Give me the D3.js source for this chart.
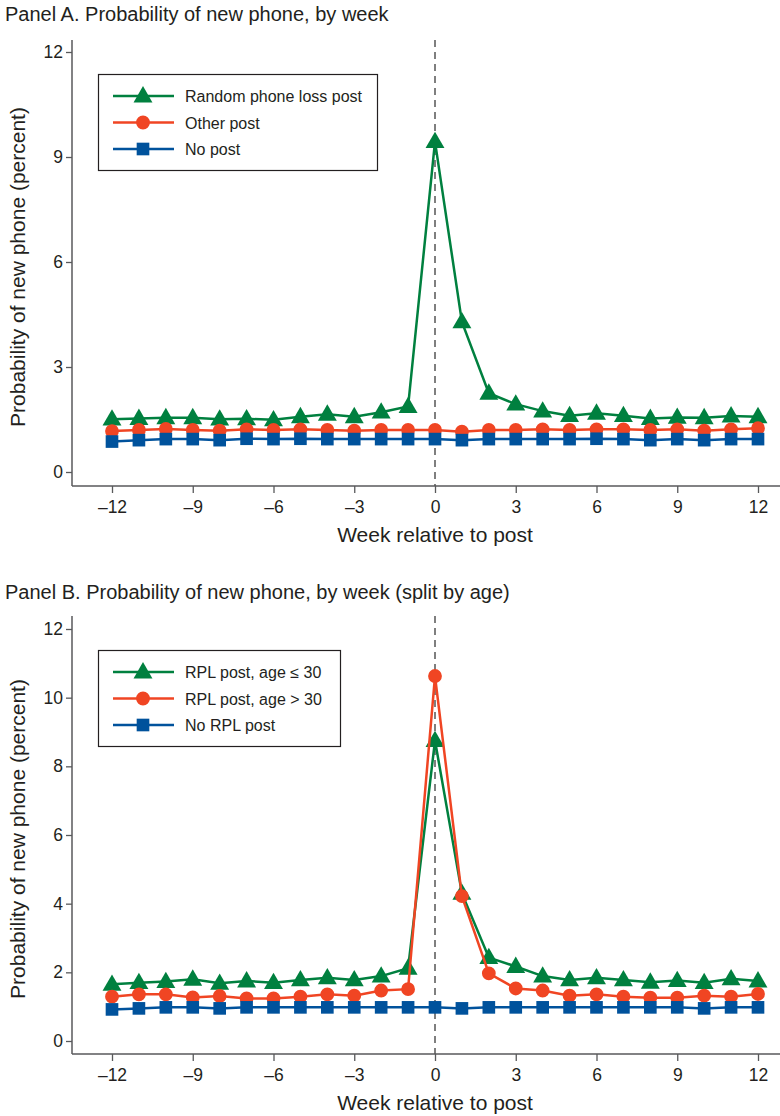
<!DOCTYPE html>
<html>
<head>
<meta charset="utf-8">
<script src="https://cdn.jsdelivr.net/npm/d3@7"></script>
<style>
  body { margin: 0; background: #fff; }
  svg { display: block; }
  text { font-family: "Liberation Sans", Arial, sans-serif; fill: #231f20; }
</style>
</head>
<body>
<div id="chart"></div>
<script>
// weeks relative to post
const weeks = d3.range(-12, 13);

// Panel A series (percent)
const rplPost = [1.51, 1.53, 1.55, 1.55, 1.51, 1.52, 1.49, 1.58, 1.65, 1.58, 1.71, 1.87,
  9.44, 4.29, 2.25, 1.94, 1.74, 1.61, 1.68, 1.61, 1.53, 1.56, 1.55, 1.60, 1.58];
const otherPost = [1.17, 1.20, 1.23, 1.20, 1.18, 1.22, 1.20, 1.22, 1.20, 1.18, 1.20, 1.20,
  1.20, 1.15, 1.20, 1.20, 1.22, 1.20, 1.22, 1.22, 1.20, 1.22, 1.18, 1.22, 1.25];
const noPost = [0.87, 0.91, 0.94, 0.94, 0.91, 0.95, 0.94, 0.95, 0.94, 0.94, 0.94, 0.94,
  0.94, 0.91, 0.94, 0.94, 0.94, 0.94, 0.95, 0.94, 0.91, 0.94, 0.91, 0.94, 0.94];

// Panel B series (percent)
const rplYoung = [1.65, 1.70, 1.73, 1.80, 1.68, 1.75, 1.70, 1.78, 1.84, 1.78, 1.89, 2.12,
  8.75, 4.30, 2.43, 2.17, 1.89, 1.78, 1.84, 1.78, 1.71, 1.76, 1.70, 1.81, 1.75];
const rplOld = [1.29, 1.36, 1.36, 1.27, 1.31, 1.24, 1.24, 1.29, 1.36, 1.32, 1.47, 1.51,
  10.63, 4.22, 1.97, 1.53, 1.47, 1.32, 1.36, 1.29, 1.26, 1.26, 1.32, 1.29, 1.37];
const noRpl = [0.92, 0.95, 0.98, 0.98, 0.95, 0.98, 0.98, 0.98, 0.98, 0.98, 0.98, 0.98,
  0.98, 0.95, 0.98, 0.98, 0.98, 0.98, 0.98, 0.98, 0.98, 0.98, 0.95, 0.98, 0.98];

const xTicks = [-12, -9, -6, -3, 0, 3, 6, 9, 12];
const yTicksA = [0, 3, 6, 9, 12];
const yTicksB = [0, 2, 4, 6, 8, 10, 12];

const green = "#00803f", red = "#f04523", blue = "#00529c";

const svg = d3.select("#chart").append("svg")
  .attr("width", 780)
  .attr("height", 1116);

const fmt = d => d < 0 ? "\u2013" + Math.abs(d) : String(d);

function drawPanel(opts) {
  const g = svg.append("g");

  g.append("text")
    .attr("x", 5).attr("y", opts.titleY)
    .style("font-size", "20px")
    .text(opts.title);

  const x = d3.scaleLinear().domain([-12, 12]).range([112, 758]);
  const y = d3.scaleLinear().domain([0, 12]).range(opts.yRange);

  // axis lines
  g.append("line")
    .attr("x1", opts.axisX).attr("x2", opts.axisX)
    .attr("y1", opts.top).attr("y2", opts.bottom)
    .attr("stroke", "#58595b").attr("stroke-width", 1.5);
  g.append("line")
    .attr("x1", opts.axisX).attr("x2", 780)
    .attr("y1", opts.bottom).attr("y2", opts.bottom)
    .attr("stroke", "#58595b").attr("stroke-width", 1.5);

  const xAxis = g.append("g")
    .attr("transform", "translate(0," + opts.bottom + ")")
    .call(d3.axisBottom(x).tickValues(xTicks).tickFormat(fmt).tickSize(7).tickPadding(8));
  xAxis.select(".domain").remove();

  const yAxis = g.append("g")
    .attr("transform", "translate(" + opts.axisX + ",0)")
    .call(d3.axisLeft(y).tickValues(opts.yTicks).tickSize(6).tickPadding(3));
  yAxis.select(".domain").remove();

  g.selectAll(".tick line").attr("stroke", "#58595b").attr("stroke-width", 1.3);
  g.selectAll(".tick text")
    .style("font-family", "\"Liberation Sans\", Arial, sans-serif")
    .style("font-size", "17.5px").attr("fill", "#231f20");

  g.append("text")
    .attr("x", x(0)).attr("y", opts.bottom + 56)
    .attr("text-anchor", "middle")
    .style("font-size", "21px")
    .text("Week relative to post");

  g.append("text")
    .attr("transform", "translate(25," + ((opts.top + opts.bottom) / 2 + 4) + ") rotate(-90)")
    .attr("text-anchor", "middle")
    .style("font-size", "21px")
    .text("Probability of new phone (percent)");

  // dashed reference line at week 0
  g.append("line")
    .attr("x1", x(0)).attr("x2", x(0))
    .attr("y1", opts.top).attr("y2", opts.bottom)
    .attr("stroke", "#555").attr("stroke-width", 1.5)
    .attr("stroke-dasharray", "7,5");

  const line = d3.line().x((d, i) => x(weeks[i])).y(d => y(d));
  const sym = {
    triangle: d3.symbol().type(d3.symbolTriangle).size(155),
    circle: d3.symbol().type(d3.symbolCircle).size(150),
    square: d3.symbol().type(d3.symbolSquare).size(160)
  };

  opts.series.forEach(s => {
    g.append("path")
      .datum(s.values)
      .attr("fill", "none")
      .attr("stroke", s.color)
      .attr("stroke-width", 2.5)
      .attr("d", line);
    g.append("g").selectAll("path")
      .data(s.values)
      .join("path")
      .attr("transform", (d, i) => "translate(" + x(weeks[i]) + "," + (y(d) + (s.shape === "triangle" ? 1 : 0)) + ")")
      .attr("d", sym[s.shape])
      .attr("fill", s.color);
  });

  // legend
  const lg = g.append("g");
  lg.append("rect")
    .attr("x", 98.5).attr("y", opts.legendTop + 0.5)
    .attr("width", opts.legendW).attr("height", 96)
    .attr("fill", "#fff").attr("stroke", "#231f20").attr("stroke-width", 1.2);
  opts.series.forEach((s, i) => {
    const ly = opts.legendTop + 22 + i * 26.5;
    lg.append("line")
      .attr("x1", 113).attr("x2", 174)
      .attr("y1", ly).attr("y2", ly)
      .attr("stroke", s.color).attr("stroke-width", 2.5);
    lg.append("path")
      .attr("transform", "translate(143," + (ly + (s.shape === "triangle" ? 1 : 0)) + ")")
      .attr("d", sym[s.shape])
      .attr("fill", s.color);
    lg.append("text")
      .attr("x", 185).attr("y", ly + 6)
      .style("font-size", "16px")
      .text(s.label);
  });
}

drawPanel({
  title: "Panel A. Probability of new phone, by week",
  titleY: 21,
  top: 40, bottom: 486, axisX: 72,
  yRange: [472, 52],
  yTicks: yTicksA,
  legendTop: 74, legendW: 279,
  series: [
    { label: "Random phone loss post", values: rplPost, color: green, shape: "triangle" },
    { label: "Other post", values: otherPost, color: red, shape: "circle" },
    { label: "No post", values: noPost, color: blue, shape: "square" }
  ]
});

drawPanel({
  title: "Panel B. Probability of new phone, by week (split by age)",
  titleY: 599,
  top: 616, bottom: 1054, axisX: 72,
  yRange: [1041, 629],
  yTicks: yTicksB,
  legendTop: 650, legendW: 242,
  series: [
    { label: "RPL post, age \u2264 30", values: rplYoung, color: green, shape: "triangle" },
    { label: "RPL post, age > 30", values: rplOld, color: red, shape: "circle" },
    { label: "No RPL post", values: noRpl, color: blue, shape: "square" }
  ]
});
</script>
</body>
</html>
